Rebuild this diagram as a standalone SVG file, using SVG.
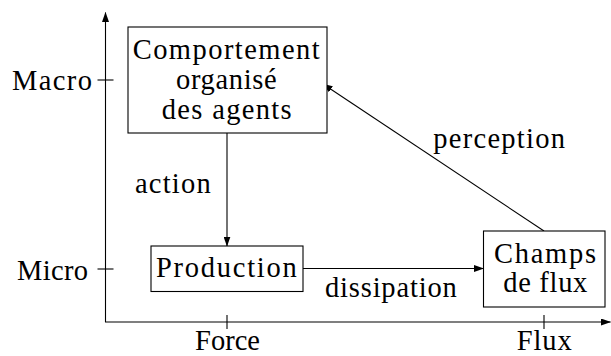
<svg xmlns="http://www.w3.org/2000/svg" width="611" height="356" viewBox="0 0 611 356">
  <style>
    text { font-family: "Liberation Serif", "Times New Roman", serif; font-size: 28.5px; fill: #000; }
    .ln { stroke: #000; stroke-width: 1.1; fill: none; }
    .box { stroke: #000; stroke-width: 1.1; fill: #fff; }
    .arr { marker-end: url(#tip); }
  </style>
  <defs>
    <marker id="tip" markerUnits="userSpaceOnUse" markerWidth="10" markerHeight="7" refX="9.5" refY="3.5" orient="auto">
      <path d="M0,0 L10,3.5 L0,7 z" fill="#000"/>
    </marker>
  </defs>

  <!-- axes, ticks and scale labels -->
  <g id="axes">
    <line class="ln arr" x1="105.5" y1="322" x2="105.5" y2="12.5"/>
    <line class="ln arr" x1="105" y1="322" x2="610.5" y2="322"/>
    <line class="ln" x1="97.5" y1="80" x2="113.5" y2="80"/>
    <line class="ln" x1="97.5" y1="269" x2="113.5" y2="269"/>
    <line class="ln" x1="227" y1="315" x2="227" y2="329"/>
    <line class="ln" x1="544" y1="315" x2="544" y2="329"/>
    <text x="12" y="90" textLength="80">Macro</text>
    <text x="17" y="279.5" textLength="71">Micro</text>
    <text x="195" y="350" textLength="65">Force</text>
    <text x="516.7" y="350" textLength="55">Flux</text>
  </g>

  <!-- connectors -->
  <g id="connectors">
    <line class="ln arr" x1="227" y1="133" x2="227" y2="246"/>
    <line class="ln arr" x1="303" y1="268.5" x2="483.5" y2="268.5"/>
    <line class="ln arr" x1="544" y1="231" x2="323" y2="84"/>
    <text x="135" y="193.3" textLength="75.7">action</text>
    <text x="325" y="297.3" textLength="131.7">dissipation</text>
    <text x="433.3" y="148.3" textLength="131.7">perception</text>
  </g>

  <!-- nodes -->
  <g id="comportement">
    <rect class="box" x="128" y="27" width="199" height="106"/>
    <text x="132.7" y="58.5" textLength="187">Comportement</text>
    <text x="176" y="88.5" textLength="100.7">organisé</text>
    <text x="161.7" y="118.5" textLength="130">des agents</text>
  </g>
  <g id="production">
    <rect class="box" x="151" y="246" width="152" height="45.5"/>
    <text x="156" y="276.7" textLength="140.7">Production</text>
  </g>
  <g id="champs">
    <rect class="box" x="483.5" y="231" width="121.5" height="76"/>
    <text x="494" y="263" textLength="102">Champs</text>
    <text x="503.3" y="291.7" textLength="84">de flux</text>
  </g>
</svg>
